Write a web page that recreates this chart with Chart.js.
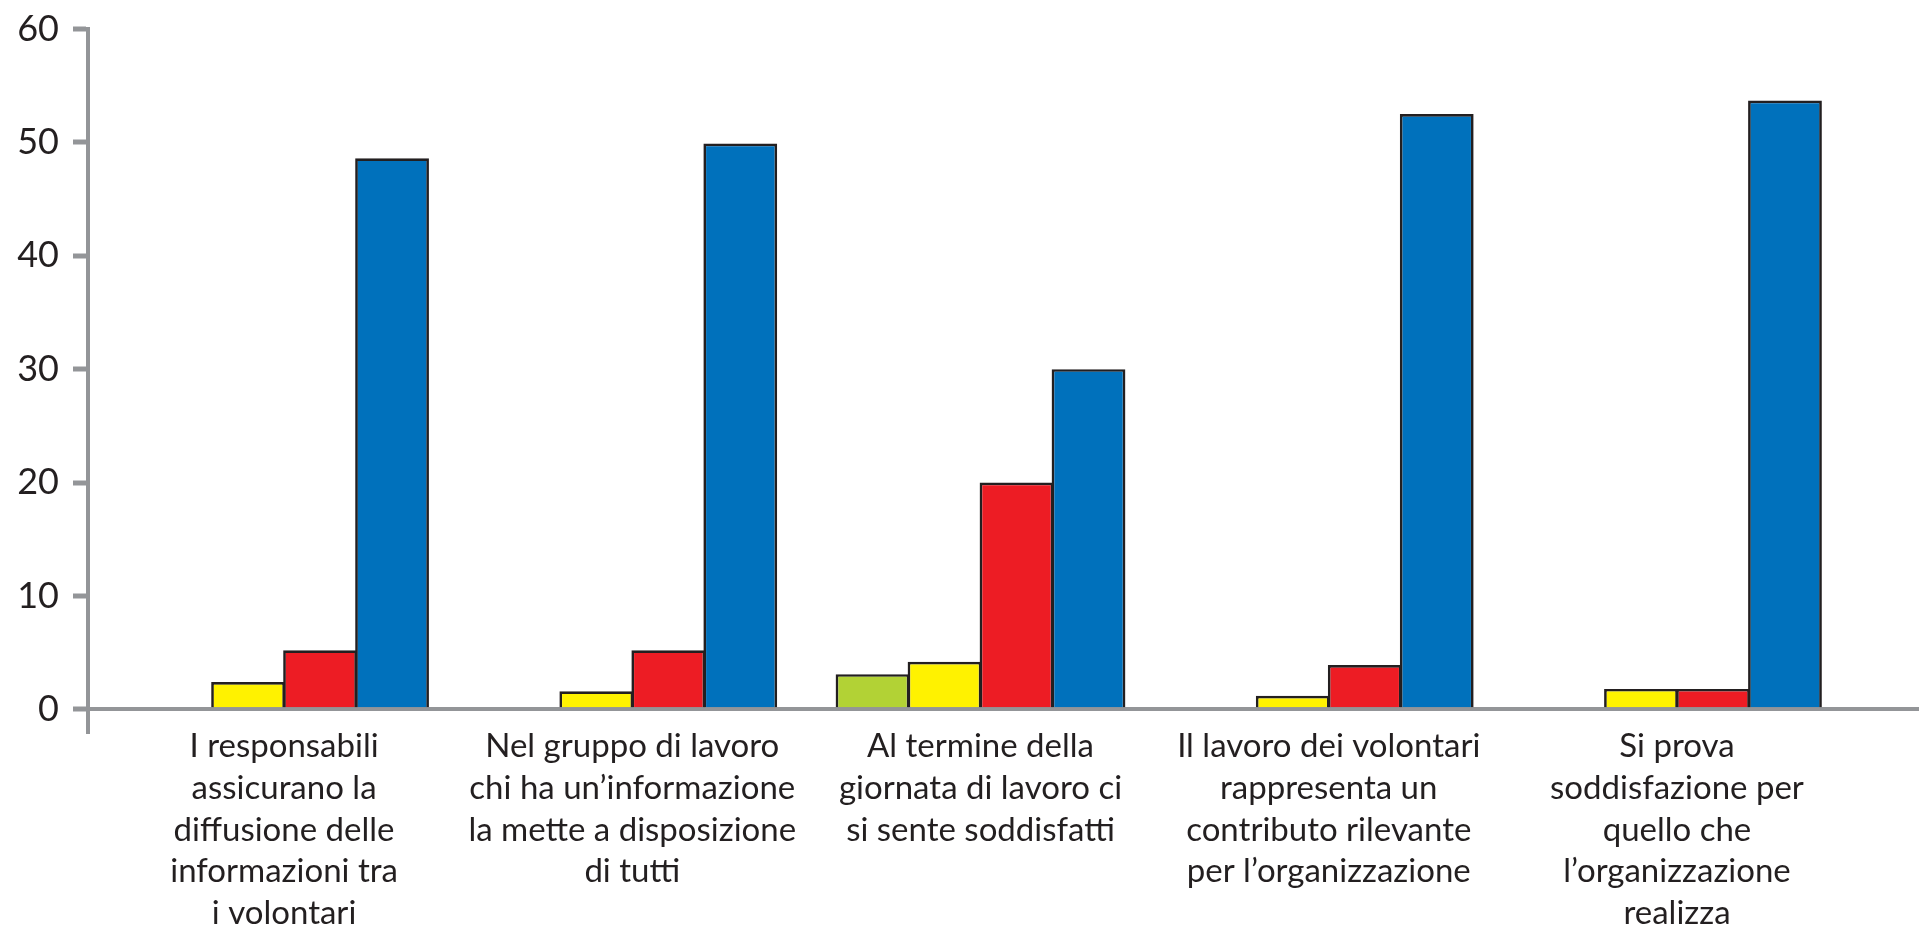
<!DOCTYPE html>
<html>
<head>
<meta charset="utf-8">
<script src="https://cdn.jsdelivr.net/npm/chart.js@4.4.1/dist/chart.umd.min.js"></script>
<style>
html,body{margin:0;padding:0;background:#ffffff;overflow:hidden}
#wrap{width:1919px;height:930px}
</style>
</head>
<body>
<div id="wrap"><canvas id="c" width="1919" height="930"></canvas></div>
<script>
// ---- data ----
const categories = [
  ["I responsabili", "assicurano la", "diffusione delle", "informazioni tra", "i volontari"],
  ["Nel gruppo di lavoro", "chi ha un’informazione", "la mette a disposizione", "di tutti"],
  ["Al termine della", "giornata di lavoro ci", "si sente soddisfatti"],
  ["Il lavoro dei volontari", "rappresenta un", "contributo rilevante", "per l’organizzazione"],
  ["Si prova", "soddisfazione per", "quello che", "l’organizzazione", "realizza"]
];
const yTicks = [0, 10, 20, 30, 40, 50, 60];
const greenValues  = [null, null, 3.1, null, null];
const yellowValues = [2.4, 1.6, 4.2, 1.2, 1.8];
const redValues    = [5.2, 5.2, 20, 3.9, 1.8];
const blueValues   = [48.6, 49.9, 30, 52.5, 53.7];

// ---- styling ----
const AXIS = '#939598';
const INK = '#231f20';
const FONT = 'Lato';

const toPoints = arr => arr.map((v, i) => ({ x: i, y: v }));
const makeSet = (label, arr, color) => ({
  label: label,
  data: toPoints(arr),
  backgroundColor: color,
  borderColor: INK,
  borderWidth: 2.7,
  categoryPercentage: 0.827,
  barPercentage: 1.025
});

new Chart(document.getElementById('c'), {
  type: 'bar',
  data: {
    datasets: [
      makeSet('verde', greenValues, '#b2d235'),
      makeSet('giallo', yellowValues, '#fff200'),
      makeSet('rosso', redValues, '#ed1c24'),
      makeSet('blu', blueValues, '#0071bc')
    ]
  },
  options: {
    responsive: false,
    animation: false,
    devicePixelRatio: 1,
    layout: { padding: { top: 29, left: 0, right: 0, bottom: 0 } },
    plugins: { legend: { display: false }, tooltip: { enabled: false } },
    scales: {
      x: {
        type: 'linear',
        offset: false,
        bounds: 'data',
        min: -0.563,
        max: 4.695,
        grid: { display: false, drawTicks: false, offset: false },
        border: { display: false },
        afterBuildTicks: s => { s.ticks = categories.map((c, i) => ({ value: i })); },
        afterFit: s => { s.height = 198; s.paddingLeft = 0; s.paddingRight = 0; },
        ticks: {
          autoSkip: false,
          maxRotation: 0,
          minRotation: 0,
          padding: -6,
          color: INK,
          font: { family: FONT, size: 33, lineHeight: 1.26 },
          callback: v => categories[v]
        }
      },
      y: {
        min: -2,
        max: 60,
        z: 1,
        afterBuildTicks: s => { s.ticks = yTicks.map(v => ({ value: v })); },
        afterFit: s => { s.width = 88; s.paddingTop = 0; s.paddingBottom = 0; },
        grid: {
          drawOnChartArea: true,
          color: c => (c.tick && c.tick.value === 0) ? AXIS : 'rgba(0,0,0,0)',
          lineWidth: 4,
          tickColor: AXIS,
          tickLength: 15,
          tickWidth: 5
        },
        border: { display: true, color: AXIS, width: 4 },
        ticks: { padding: 14, color: INK, font: { family: FONT, size: 36 } }
      }
    }
  }
});
</script>
</body>
</html>
